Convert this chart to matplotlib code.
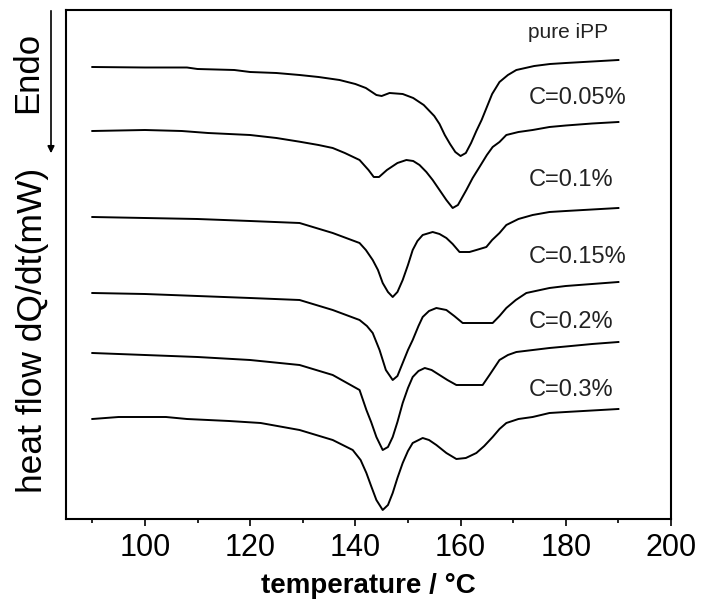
import numpy as np
import matplotlib
matplotlib.use("Agg")
import matplotlib.pyplot as plt

plt.rcParams['font.family'] = ['Liberation Sans', 'DejaVu Sans']

# DSC heating curves, stacked; heat flow (arb. units, endo down)
t_pure = [90, 100, 108, 110, 117, 120, 125, 129.4, 133, 137, 140, 142, 144, 145, 146.5, 149, 151,
          153, 155, 156, 157, 158, 159, 160, 161, 162, 163, 164, 165, 166, 167.4, 169, 170.6,
          174, 177, 180, 185, 190]
q_pure = [67, 67.5, 67.5, 69, 70, 72, 73, 75, 77, 80, 84, 88, 95, 96, 93, 94, 98,
          105, 116, 124, 135, 144, 152, 156, 153, 143, 131, 120, 107, 94, 82, 75, 70,
          66, 64, 63, 61.5, 60]

t_005 = [90, 100, 107, 112, 120, 125, 129.4, 133, 135.7, 138, 140.8, 142.5, 143.5, 144.5, 146, 148,
         149.7, 151, 152.2, 153.5, 154.7, 156, 157.3, 158.5, 159.5, 161.1, 162.3, 163.6, 165,
         166.1, 167.4, 168.7, 171, 173.7, 176.9, 180, 185, 190]
q_005 = [131, 130, 131, 133, 135, 138, 141.7, 145, 148, 153, 160, 170, 177, 177, 170, 163,
         160, 161, 165, 172, 180, 190, 200, 208, 205, 190, 178, 167, 155,
         147, 142, 135, 132, 130, 127, 125.5, 123.5, 122]

t_01 = [90, 100, 110, 120, 129.4, 135.7, 140.8, 142, 143.3, 144.3, 145.2, 146.2, 147.1, 148, 149,
        150, 150.9, 151.8, 152.8, 154.7, 156, 157.3, 158.5, 159.8, 161.7, 163, 164.9, 166,
        167.4, 168.7, 171, 173.7, 176.9, 180, 185, 190]
q_01 = [217, 218, 219, 221, 223, 233, 243, 250, 260, 270, 283, 292, 297, 292, 280,
        265, 250, 241, 235, 232, 234, 238, 244, 252, 252, 250, 247, 240,
        233, 225, 219, 215, 212, 211, 209.5, 208]

t_015 = [90, 100, 110, 120, 129.4, 135.7, 140.8, 142.2, 143.3, 144.6, 145.8, 147.1, 148, 149, 150,
         150.9, 152, 152.8, 154, 155.4, 157.3, 158.8, 160.4, 163, 166.1, 167.4, 168.7, 170.5,
         172.5, 176.9, 180, 185, 190]
q_015 = [293, 294, 296, 298, 300, 310, 320, 326, 333, 350, 370, 380, 376, 363, 350,
         340, 326, 317, 311, 308, 310, 316, 323, 323, 323, 316, 308, 300,
         293, 288, 286, 284, 282]

t_02 = [90, 100, 110, 120, 129.4, 135.7, 140.8, 142.1, 143, 144, 145.2, 146.2, 147.1, 148, 149,
        150, 150.9, 152, 153.2, 154.5, 156, 157.5, 159.2, 162, 164.2, 165.5, 167.4, 169,
        170.6, 176.9, 180, 185, 190]
q_02 = [353, 355, 357, 360, 365, 375, 390, 410, 422, 437, 450, 447, 437, 422, 403,
        388, 377, 371, 368, 370, 375, 380, 385, 385, 385, 375, 360, 355,
        352, 348, 346.5, 344, 342]

t_03 = [90, 95, 104, 108, 116, 122, 129.4, 135.7, 139.5, 141, 142.1, 143, 144, 145.2, 146.2,
        147.1, 148, 149, 150, 150.9, 152.8, 154, 155.4, 157.3, 159.2, 161, 163, 164.5,
        166.1, 167.4, 168.7, 171, 173.7, 176.9, 180, 185, 190]
q_03 = [419, 417, 417, 419, 421, 423, 430, 440, 450, 460, 473, 486, 500, 510, 505,
        493, 478, 463, 451, 443, 438, 440, 445, 453, 459, 458, 453, 446,
        437, 429, 423, 419, 417, 413, 412, 410.5, 409]

curves = [(t_pure, q_pure), (t_005, q_005), (t_01, q_01),
          (t_015, q_015), (t_02, q_02), (t_03, q_03)]
labels = ["pure iPP", "C=0.05%", "C=0.1%", "C=0.15%", "C=0.2%", "C=0.3%"]
label_y = [33, 98, 180, 257, 322, 390]

fig = plt.figure(figsize=(7.04, 6.13), dpi=100)
ax = fig.add_axes([66 / 704, 1 - 519 / 613, 605 / 704, 509 / 613])

for t, q in curves:
    ax.plot(t, q, color='black', lw=1.4)

for lab, yy in zip(labels, label_y):
    fs = 15 if lab == "pure iPP" else 17
    ax.text(172.9, yy, lab, fontsize=fs, ha='left', va='center', color='#222222')

ax.set_xlim(85, 200)
ax.set_ylim(519, 10)
ax.set_xticks(np.arange(100, 201, 20))
ax.set_xticks(np.arange(90, 200, 20), minor=True)
ax.tick_params(axis='x', which='major', direction='out', length=5, width=1.2,
               labelsize=22, pad=5)
ax.tick_params(axis='x', which='minor', direction='out', length=3, width=1.2)
ax.set_yticks([])
for sp in ax.spines.values():
    sp.set_linewidth(1.5)

ax.set_xlabel("temperature / °C", fontsize=20, fontweight='bold', labelpad=7)
fig.text(33 / 704, 1 - 330 / 613, "heat flow dQ/dt(mW)", rotation=90,
         fontsize=25.5, ha='center', va='center')
fig.text(28 / 704, 1 - 72 / 613, "Endo", rotation=90, fontsize=25,
         ha='center', va='center')
fig.add_artist(matplotlib.patches.FancyArrowPatch(
    (51 / 704, 1 - 8 / 613), (51 / 704, 1 - 156 / 613), transform=fig.transFigure,
    arrowstyle='-|>', mutation_scale=10, color='black', lw=1.2))

fig.savefig("out.png", dpi=100)
